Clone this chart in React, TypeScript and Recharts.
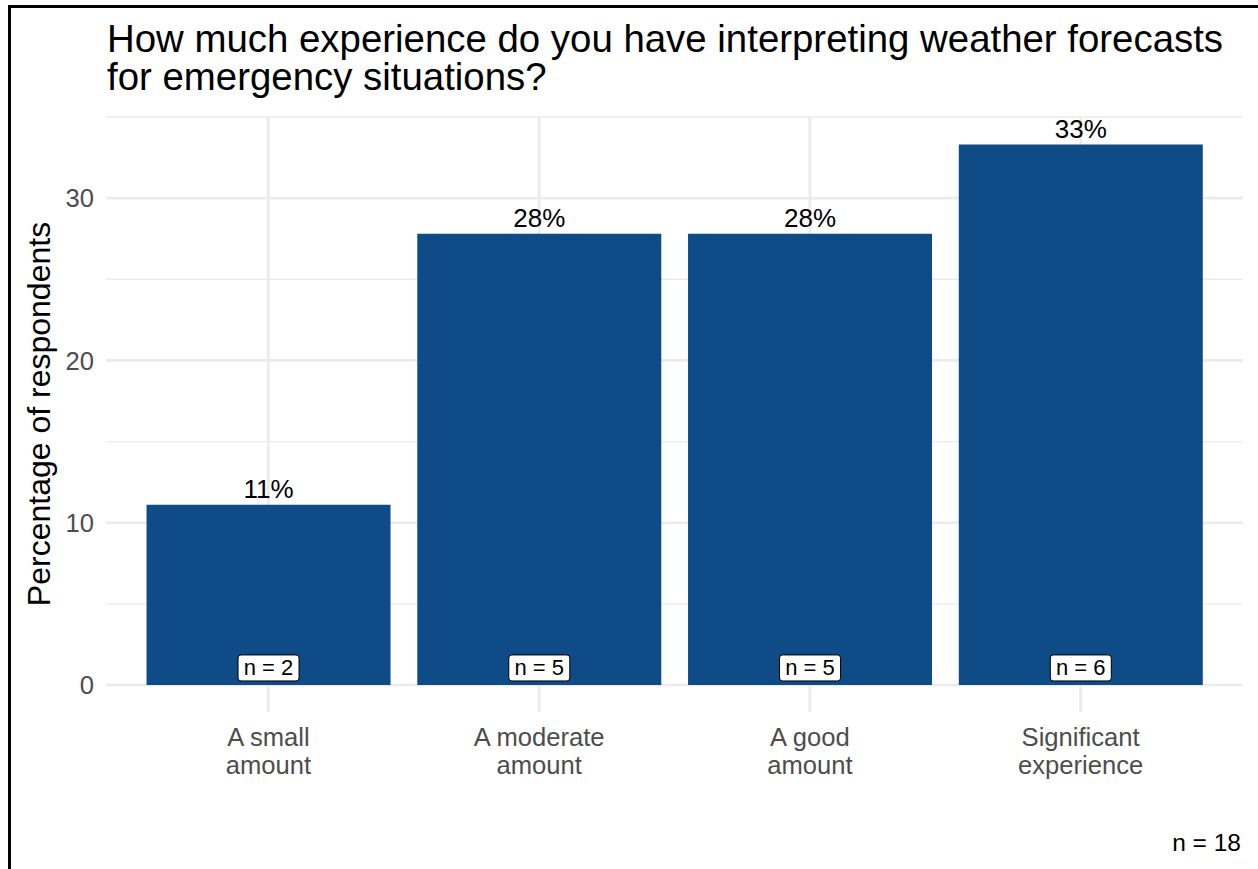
import React from 'react';
import { BarChart, Bar, XAxis, YAxis, CartesianGrid, LabelList } from 'recharts';

const categories = ['A small\namount', 'A moderate\namount', 'A good\namount', 'Significant\nexperience'];
const percentages = [11.1, 27.8, 27.8, 33.3];
const valueLabels = ['11%', '28%', '28%', '33%'];
const counts = [2, 5, 5, 6];
const yTicks = [0, 10, 20, 30];
const minorBreaks = [5, 15, 25, 35];
const totalN = 18;
const yDomain: [number, number] = [-1.667, 35];
const titleLines = [
  'How much experience do you have interpreting weather forecasts',
  'for emergency situations?',
];
const yAxisTitle = 'Percentage of respondents';

const data = categories.map((c, i) => ({
  category: c,
  pct: percentages[i],
  label: valueLabels[i],
  n: counts[i],
}));

const FONT = '"Liberation Sans", Arial, Helvetica, sans-serif';
const BAR = '#0F4B87';
const GRID = '#EBEBEB';

const XTick = (p: any) => {
  const lines = String(p.payload.value).split('\n');
  return (
    <g>
      {lines.map((l, i) => (
        <text
          key={i}
          x={p.x}
          y={p.y + 34 + i * 28}
          textAnchor="middle"
          fontSize={25.6}
          fill="#4D4D4D"
          fontFamily={FONT}
        >
          {l}
        </text>
      ))}
    </g>
  );
};

const YTick = (p: any) => (
  <text
    x={p.x}
    y={p.y}
    dy="0.36em"
    textAnchor="end"
    fontSize={25.6}
    fill="#4D4D4D"
    fontFamily={FONT}
  >
    {p.payload.value}
  </text>
);

const renderValueLabel = (p: any) => {
  const x = Number(p.x);
  const y = Number(p.y);
  const w = Number(p.width);
  return (
    <text x={x + w / 2} y={y - 7} textAnchor="middle" fontSize={26} fill="#000" fontFamily={FONT}>
      {p.value}
    </text>
  );
};

const renderCountLabel = (p: any) => {
  const x = Number(p.x);
  const y = Number(p.y);
  const w = Number(p.width);
  const h = Number(p.height);
  const cx = x + w / 2;
  const bottom = y + h;
  return (
    <g>
      <rect x={cx - 30.5} y={bottom - 30} width={61} height={26} rx={3} ry={3} fill="#fff" stroke="#000" strokeWidth={1} />
      <text x={cx} y={bottom - 9.5} textAnchor="middle" fontSize={22} fill="#000" fontFamily={FONT}>
        {`n = ${p.value}`}
      </text>
    </g>
  );
};

export default function App() {
  return (
    <div style={{ position: 'fixed', left: 0, top: 0, width: 1258, height: 869, overflow: 'hidden', background: '#fff' }}>
      <div
        style={{
          position: 'absolute',
          left: 8,
          top: 5,
          width: 1320,
          height: 940,
          border: '3px solid #000',
          boxSizing: 'border-box',
        }}
      />
      <div style={{ position: 'absolute', left: 0, top: 0 }}>
        <BarChart
          width={1258}
          height={869}
          data={data}
          margin={{ top: 117, right: 15, bottom: 97, left: 46 }}
          barCategoryGap="5%"
        >
          <CartesianGrid stroke={GRID} strokeWidth={1.3} vertical={false} yAxisId="minor" syncWithTicks />
          <CartesianGrid stroke={GRID} strokeWidth={2.6} yAxisId="major" syncWithTicks />
          <XAxis
            dataKey="category"
            padding={{ left: 27, right: 27 }}
            axisLine={false}
            tickLine={false}
            tickSize={0}
            tickMargin={0}
            height={60}
            interval={0}
            tick={<XTick />}
          />
          <YAxis
            yAxisId="major"
            type="number"
            domain={yDomain}
            allowDataOverflow
            ticks={yTicks}
            interval={0}
            axisLine={false}
            tickLine={false}
            tickSize={0}
            tickMargin={12}
            width={60}
            tick={<YTick />}
          />
          <YAxis
            yAxisId="minor"
            type="number"
            domain={yDomain}
            allowDataOverflow
            ticks={minorBreaks}
            interval={0}
            hide
          />
          <Bar yAxisId="major" dataKey="pct" fill={BAR} isAnimationActive={false}>
            <LabelList dataKey="label" content={renderValueLabel} />
            <LabelList dataKey="n" content={renderCountLabel} />
          </Bar>
        </BarChart>
      </div>
      <svg
        width={1258}
        height={869}
        style={{ position: 'absolute', left: 0, top: 0, pointerEvents: 'none' }}
      >
        {titleLines.map((t, i) => (
          <text key={i} x={107} y={52 + i * 38.3} fontSize={38.4} fill="#000" fontFamily={FONT}>
            {t}
          </text>
        ))}
        <text
          x={50}
          y={414}
          transform="rotate(-90, 50, 414)"
          textAnchor="middle"
          fontSize={32}
          fill="#000"
          fontFamily={FONT}
        >
          {yAxisTitle}
        </text>
        <text x={1241} y={851} textAnchor="end" fontSize={24.5} fill="#000" fontFamily={FONT}>
          {`n = ${totalN}`}
        </text>
      </svg>
    </div>
  );
}
